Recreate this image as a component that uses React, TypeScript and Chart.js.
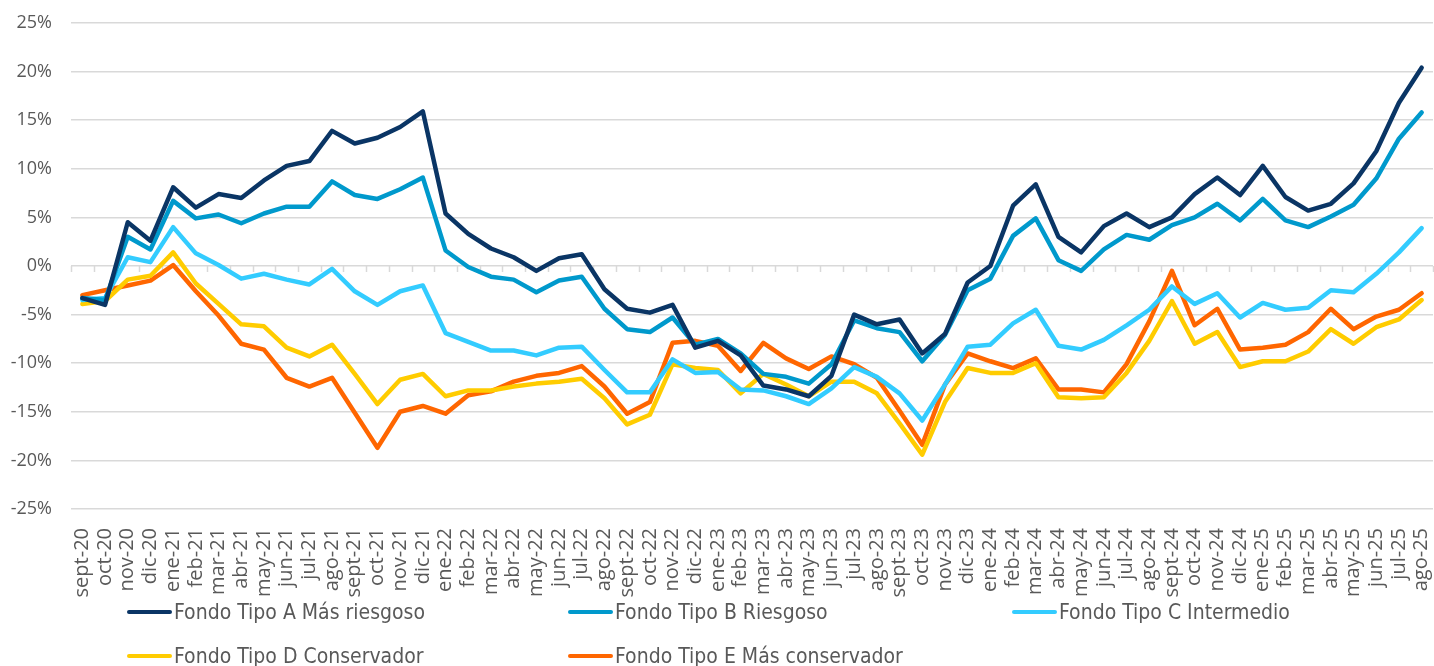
import React, { useEffect, useRef } from 'react';
import { Chart, registerables } from 'chart.js';
Chart.register(...registerables);

const months = [
  'sept-20', 'oct-20', 'nov-20', 'dic-20',
  'ene-21', 'feb-21', 'mar-21', 'abr-21', 'may-21', 'jun-21', 'jul-21', 'ago-21', 'sept-21', 'oct-21', 'nov-21', 'dic-21',
  'ene-22', 'feb-22', 'mar-22', 'abr-22', 'may-22', 'jun-22', 'jul-22', 'ago-22', 'sept-22', 'oct-22', 'nov-22', 'dic-22',
  'ene-23', 'feb-23', 'mar-23', 'abr-23', 'may-23', 'jun-23', 'jul-23', 'ago-23', 'sept-23', 'oct-23', 'nov-23', 'dic-23',
  'ene-24', 'feb-24', 'mar-24', 'abr-24', 'may-24', 'jun-24', 'jul-24', 'ago-24', 'sept-24', 'oct-24', 'nov-24', 'dic-24',
  'ene-25', 'feb-25', 'mar-25', 'abr-25', 'may-25', 'jun-25', 'jul-25', 'ago-25',
];

const fondoA = [
  -3.3, -4.0, 4.5, 2.6, 8.1, 6.0, 7.4, 7.0, 8.8, 10.3, 10.8, 13.9, 12.6, 13.2, 14.3, 15.9,
  5.4, 3.3, 1.8, 0.9, -0.5, 0.8, 1.2, -2.4, -4.4, -4.8, -4.0, -8.4,
  -7.7, -9.2, -12.3, -12.7, -13.4, -11.3, -5.0, -6.0, -5.5, -9.0, -7.0, -1.7,
  0.0, 6.2, 8.4, 3.0, 1.4, 4.1, 5.4, 4.0, 5.0, 7.4, 9.1, 7.3,
  10.3, 7.1, 5.7, 6.4, 8.5, 11.8, 16.8, 20.4,
];

const fondoB = [
  -3.3, -3.5, 3.0, 1.7, 6.7, 4.9, 5.3, 4.4, 5.4, 6.1, 6.1, 8.7, 7.3, 6.9, 7.9, 9.1,
  1.6, -0.1, -1.1, -1.4, -2.7, -1.5, -1.1, -4.4, -6.5, -6.8, -5.3, -8.1,
  -7.5, -9.0, -11.1, -11.4, -12.1, -10.1, -5.6, -6.4, -6.8, -9.8, -7.1, -2.5,
  -1.3, 3.1, 4.9, 0.6, -0.5, 1.7, 3.2, 2.7, 4.2, 5.0, 6.4, 4.7,
  6.9, 4.7, 4.0, 5.1, 6.3, 9.0, 13.1, 15.8,
];

const fondoC = [
  -3.5, -3.3, 0.9, 0.4, 4.0, 1.3, 0.1, -1.3, -0.8, -1.4, -1.9, -0.3, -2.6, -4.0, -2.6, -2.0,
  -6.9, -7.8, -8.7, -8.7, -9.2, -8.4, -8.3, -10.7, -13.0, -13.0, -9.6, -11.0,
  -10.9, -12.7, -12.8, -13.4, -14.2, -12.6, -10.4, -11.4, -13.1, -15.9, -12.2, -8.3,
  -8.1, -5.9, -4.5, -8.2, -8.6, -7.6, -6.1, -4.5, -2.1, -3.9, -2.8, -5.3,
  -3.8, -4.5, -4.3, -2.5, -2.7, -0.8, 1.4, 3.9,
];

const fondoD = [
  -3.9, -3.6, -1.4, -1.0, 1.4, -1.8, -3.9, -6.0, -6.2, -8.4, -9.3, -8.1, -11.1, -14.2, -11.7, -11.1,
  -13.4, -12.8, -12.8, -12.4, -12.1, -11.9, -11.6, -13.6, -16.3, -15.3, -10.1, -10.5,
  -10.7, -13.1, -11.1, -12.2, -13.4, -11.9, -11.9, -13.1, -16.2, -19.4, -14.0, -10.5,
  -11.0, -11.0, -10.0, -13.5, -13.6, -13.5, -11.0, -7.7, -3.6, -8.0, -6.8, -10.4,
  -9.8, -9.8, -8.8, -6.5, -8.0, -6.3, -5.5, -3.5,
];

const fondoE = [
  -3.0, -2.5, -2.0, -1.5, 0.1, -2.6, -5.1, -8.0, -8.6, -11.5, -12.4, -11.5, -15.1, -18.7, -15.0, -14.4,
  -15.2, -13.3, -12.9, -11.9, -11.3, -11.0, -10.3, -12.4, -15.2, -14.0, -7.9, -7.7,
  -8.2, -10.8, -7.9, -9.5, -10.6, -9.3, -10.1, -11.5, -14.9, -18.4, -12.2, -9.0,
  -9.8, -10.5, -9.5, -12.7, -12.7, -13.0, -10.1, -5.7, -0.5, -6.1, -4.4, -8.6,
  -8.4, -8.1, -6.8, -4.4, -6.5, -5.2, -4.5, -2.8,
];

const seriesNames = [
  'Fondo Tipo A Más riesgoso',
  'Fondo Tipo B Riesgoso',
  'Fondo Tipo C Intermedio',
  'Fondo Tipo D Conservador',
  'Fondo Tipo E Más conservador',
];
const seriesData = [fondoA, fondoB, fondoC, fondoD, fondoE];
const seriesColors = ['#0A3565', '#0099CC', '#33CCFF', '#FFCC00', '#FF6600'];

const TICK_FONT = '"Open Sans", "Noto Sans", sans-serif';
const LEGEND_FONT = '"DejaVu Sans Condensed", "DejaVu Sans", sans-serif';
const TEXT_COLOR = '#595959';
const GRID_COLOR = '#D9D9D9';

const zeroAxisPlugin = {
  id: 'zeroAxis',
  beforeDatasetsDraw(chart: any) {
    const { ctx, chartArea, scales } = chart;
    const y0 = scales.y.getPixelForValue(0);
    const n = chart.data.labels.length;
    const step = (chartArea.right - chartArea.left) / n;
    ctx.save();
    ctx.strokeStyle = GRID_COLOR;
    ctx.lineWidth = 1.5;
    ctx.beginPath();
    for (let k = 0; k <= n; k++) {
      const x = Math.round(chartArea.left + k * step) + 0.5;
      ctx.moveTo(x, y0);
      ctx.lineTo(x, y0 + 6);
    }
    ctx.stroke();
    ctx.restore();
  },
};

const legendPos = [
  { left: 127, top: 612 },
  { left: 568, top: 612 },
  { left: 1012, top: 612 },
  { left: 127, top: 656 },
  { left: 568, top: 656 },
];

export default function App() {
  const canvasRef = useRef<HTMLCanvasElement | null>(null);

  useEffect(() => {
    if (!canvasRef.current) return;
    const chart = new Chart(canvasRef.current, {
      type: 'line',
      data: {
        labels: months,
        datasets: seriesNames.map((name, i) => ({
          label: name,
          data: seriesData[i],
          borderColor: seriesColors[i],
          backgroundColor: seriesColors[i],
          borderWidth: 4.5,
          pointRadius: 0,
          tension: 0,
          fill: false,
          borderJoinStyle: 'round' as const,
          borderCapStyle: 'round' as const,
        })),
      },
      options: {
        responsive: false,
        animation: false,
        layout: { padding: { top: 23, right: 1, left: 0, bottom: 0 } },
        plugins: {
          legend: { display: false },
          tooltip: { enabled: false },
        },
        scales: {
          x: {
            type: 'category',
            offset: true,
            grid: { display: false },
            border: { display: false },
            ticks: {
              autoSkip: false,
              maxRotation: 90,
              minRotation: 90,
              padding: 11,
              color: TEXT_COLOR,
              font: { family: TICK_FONT, size: 20 },
            },
            afterFit: (scale: any) => {
              scale.height = 157;
              scale.paddingLeft = 0;
              scale.paddingRight = 0;
            },
          },
          y: {
            min: -25,
            max: 25,
            ticks: {
              stepSize: 5,
              padding: 19,
              color: TEXT_COLOR,
              font: { family: TICK_FONT, size: 18 },
              callback: (v: any) => `${v}%`,
            },
            grid: { color: GRID_COLOR, lineWidth: 1.5, drawTicks: false },
            border: { display: false },
            afterFit: (scale: any) => {
              scale.width = 71;
              scale.paddingTop = 0;
              scale.paddingBottom = 0;
            },
          },
        },
      },
      plugins: [zeroAxisPlugin],
    });
    return () => chart.destroy();
  }, []);

  return (
    <div style={{ position: 'absolute', left: 0, top: 0, width: 1434, height: 666, background: '#fff', overflow: 'hidden' }}>
      <canvas ref={canvasRef} width={1434} height={666} style={{ width: 1434, height: 666, display: 'block' }} />
      {seriesNames.map((name, i) => (
        <div
          key={name}
          style={{
            position: 'absolute',
            left: legendPos[i].left,
            top: legendPos[i].top - 14,
            height: 28,
            display: 'flex',
            alignItems: 'center',
            fontFamily: LEGEND_FONT,
            fontSize: 21,
            color: TEXT_COLOR,
            whiteSpace: 'nowrap',
          }}
        >
          <span style={{ display: 'inline-block', width: 45, height: 4, borderRadius: 2, background: seriesColors[i], marginRight: 2 }} />
          <span>{name}</span>
        </div>
      ))}
    </div>
  );
}
